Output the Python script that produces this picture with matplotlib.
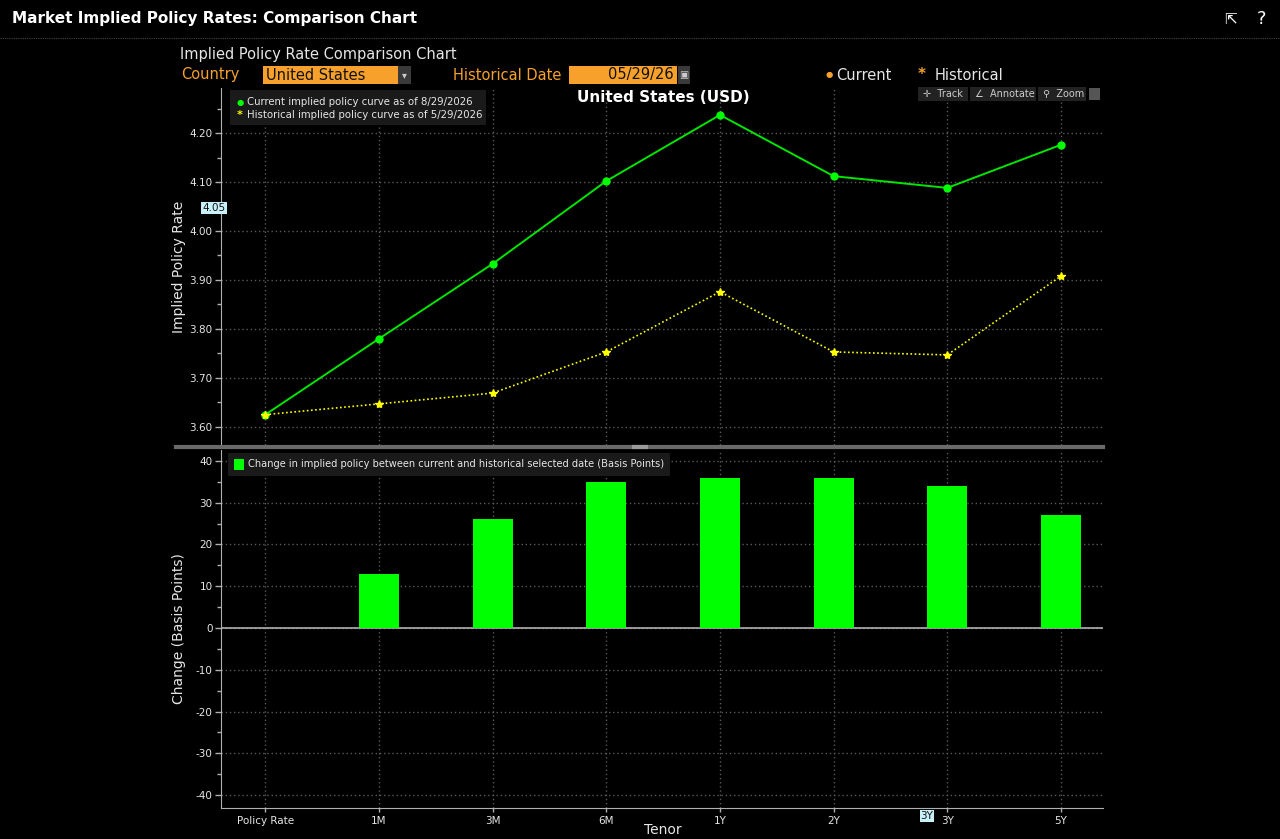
import matplotlib
matplotlib.use("Agg")
import matplotlib.pyplot as plt
from matplotlib.patches import Rectangle
from matplotlib.lines import Line2D
from matplotlib.ticker import MultipleLocator, FormatStrFormatter

tenors = ["Policy Rate", "1M", "3M", "6M", "1Y", "2Y", "3Y", "5Y"]
current = [3.625, 3.780, 3.933, 4.102, 4.237, 4.112, 4.088, 4.176]
historical = [3.625, 3.647, 3.669, 3.753, 3.876, 3.753, 3.747, 3.908]
change_bp = [0, 13, 26, 35, 36, 36, 34, 27]

W, H = 1280, 839
GREEN = "#00ff00"
LINE_GREEN = "#00e600"
YELLOW = "#ffff00"
ORANGE = "#f7a12c"
GRID = "#5a5a5a"
TXT = "#e6e6e6"

plt.rcParams["axes.unicode_minus"] = False

fig = plt.figure(figsize=(W / 100, H / 100), dpi=100, facecolor="black")


def fx(x):
    return x / W


def fy(y):
    return 1 - y / H


def ftext(x, y, s, **kw):
    kw.setdefault("color", TXT)
    kw.setdefault("va", "center")
    return fig.text(fx(x), fy(y), s, **kw)


def fbox(x0, y0, x1, y1, color, **kw):
    r = Rectangle((fx(x0), fy(y1)), fx(x1) - fx(x0), fy(y0) - fy(y1),
                  transform=fig.transFigure, facecolor=color, edgecolor="none", **kw)
    fig.add_artist(r)
    return r


# title bar
ftext(12, 19, "Market Implied Policy Rates: Comparison Chart", fontsize=11, fontweight="bold", color="white")
fig.add_artist(Line2D([0, 1], [fy(38), fy(38)], color="#444444", lw=0.8, ls=(0, (1, 1))))
ftext(1230, 19, "\u21f1", fontsize=11, color="white", ha="center")
ftext(1262, 19, "?", fontsize=13, color="white", ha="center")

# header controls
ftext(180, 54, "Implied Policy Rate Comparison Chart", fontsize=10.5)
ftext(181, 75, "Country", fontsize=10.5, color=ORANGE)
fbox(263, 66, 398, 84, ORANGE)
ftext(266, 75, "United States", fontsize=10.5, color="#111111")
fbox(398, 66, 411, 84, "#3a3a3a")
ftext(404.5, 75, "\u25be", fontsize=7, color="#cccccc", ha="center")
ftext(453, 75, "Historical Date", fontsize=10.5, color=ORANGE)
fbox(569, 66, 677, 84, ORANGE)
ftext(674, 75, "05/29/26", fontsize=10.5, color="#111111", ha="right")
fbox(678, 66, 690, 84, "#3a3a3a")
ftext(684, 75, "\u25a3", fontsize=7, color="#cccccc", ha="center")
ftext(829, 75, "\u25cf", fontsize=6, color=ORANGE, ha="center")
ftext(836, 75, "Current", fontsize=10.5)
ftext(922, 75, "*", fontsize=11, color=ORANGE, ha="center", fontweight="bold")
ftext(935, 75, "Historical", fontsize=10.5)

# axes
left, right = 221, 1103
ax1 = fig.add_axes([fx(left), fy(445), fx(right) - fx(left), fy(88) - fy(445)])
ax2 = fig.add_axes([fx(left), fy(808), fx(right) - fx(left), fy(450) - fy(808)])

x = list(range(len(tenors)))

for ax in (ax1, ax2):
    ax.set_facecolor("black")
    for s in ("top", "right"):
        ax.spines[s].set_visible(False)
    ax.spines["left"].set_color("#b0b0b0")
    ax.spines["bottom"].set_color("#b0b0b0")
    ax.grid(True, color=GRID, ls=(0, (1, 2)), lw=1)
    ax.set_axisbelow(True)
    ax.tick_params(colors="#b0b0b0", labelcolor=TXT, labelsize=7.5, length=4, width=1, pad=2)
    ax.tick_params(which="minor", colors="#b0b0b0", length=3, width=1)
    ax.set_xlim(-0.39, 7.37)
    ax.set_xticks(x)

ax1.spines["bottom"].set_visible(False)
ax1.tick_params(axis="x", length=0, labelbottom=False)
ax1.plot(x, current, color=LINE_GREEN, lw=1.4, marker="o", ms=5, mfc=GREEN, mec=GREEN, zorder=3)
ax1.plot(x, historical, color=YELLOW, lw=1.2, ls=(0, (1, 1.5)), marker="*", ms=6, mfc=YELLOW, mec=YELLOW, zorder=3)
ax1.set_ylim(3.563, 4.292)
ax1.yaxis.set_major_locator(MultipleLocator(0.1))
ax1.yaxis.set_minor_locator(MultipleLocator(0.05))
ax1.yaxis.set_major_formatter(FormatStrFormatter("%.2f"))
ax1.set_ylabel("Implied Policy Rate", color=TXT, fontsize=10)
ax1.yaxis.set_label_coords((186 - left) / (right - left), 0.5)

ax2.bar(x, change_bp, width=0.35, color=GREEN, zorder=3)
ax2.axhline(0, color="#b0b0b0", lw=1.2, zorder=2)
ax2.set_ylim(-43.1, 42.6)
ax2.yaxis.set_major_locator(MultipleLocator(10))
ax2.yaxis.set_minor_locator(MultipleLocator(5))
ax2.set_xticklabels(tenors)
ax2.tick_params(axis="x", length=3, pad=3)
ax2.set_ylabel("Change (Basis Points)", color=TXT, fontsize=10)
ax2.yaxis.set_label_coords((186 - left) / (right - left), 0.5)
ftext(663, 830, "Tenor", fontsize=10, ha="center")

# chart title
ftext(663, 97, "United States (USD)", fontsize=11, fontweight="bold", color="white", ha="center")

# legends
fbox(230, 90, 486, 125, "#1a1a1a", zorder=5)
ftext(240, 102, "\u25cf", fontsize=6, color=GREEN, ha="center", zorder=6)
ftext(247, 102, "Current implied policy curve as of 8/29/2026", fontsize=7.3, zorder=6)
ftext(240, 115, "*", fontsize=8, color=YELLOW, ha="center", zorder=6, fontweight="bold")
ftext(247, 115, "Historical implied policy curve as of 5/29/2026", fontsize=7.3, zorder=6)

fbox(228, 453, 670, 476, "#1a1a1a", zorder=5)
fbox(234, 459, 244, 470, GREEN, zorder=6)
ftext(248, 464.5, "Change in implied policy between current and historical selected date (Basis Points)",
      fontsize=7.1, zorder=6)

# toolbar
for x0, x1, label in [(918, 968, "\u271b  Track"), (970, 1036, "\u2220  Annotate"), (1038, 1086, "\u26b2  Zoom")]:
    fbox(x0, 87, x1, 101, "#222222", zorder=5)
    ftext(x0 + 5, 94, label, fontsize=7, color="#cccccc", zorder=6)
fbox(1089, 88, 1100, 100, "#555555", zorder=5)

# separator between panels
fig.add_artist(Line2D([fx(176), fx(1103)], [fy(446.5), fy(446.5)], color="#6a6a6a", lw=3))
fig.add_artist(Line2D([fx(634), fx(646)], [fy(446.5), fy(446.5)], color="#9a9a9a", lw=3))

# cursor highlight labels
ftext(214, 208, "4.05", fontsize=7.5, color="#111111", ha="center",
      bbox=dict(boxstyle="square,pad=0.1", fc="#c8f0f8", ec="none"))
ftext(927, 816, "3Y", fontsize=7.5, color="#111111", ha="center",
      bbox=dict(boxstyle="square,pad=0.1", fc="#c8f0f8", ec="none"))

fig.savefig("out.png", dpi=100, facecolor="black")
